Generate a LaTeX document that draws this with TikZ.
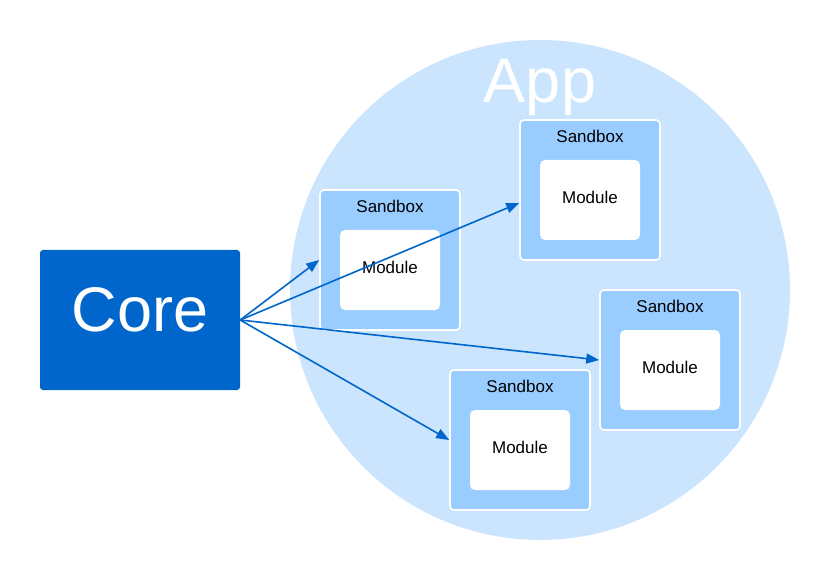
\documentclass[tikz,border=0pt]{standalone}
\usepackage{fontspec}
\setmainfont{Liberation Sans}
\usetikzlibrary{positioning, shapes.geometric, arrows.meta}
\definecolor{coreblue}{HTML}{0066CC}
\definecolor{appblue}{HTML}{CCE5FF}
\definecolor{sandblue}{HTML}{99CCFF}
\tikzstyle{app} = [circle, minimum size=500pt, inner sep=0pt, fill=appblue]
\tikzstyle{core} = [rectangle, rounded corners=3pt, minimum width=200pt, minimum height=140pt, fill=coreblue]
\tikzstyle{sandbox} = [rectangle, rounded corners=4pt, minimum width=140pt, minimum height=140pt, draw=white, line width=1.6pt, fill=sandblue]
\tikzstyle{module} = [rectangle, rounded corners=5pt, minimum width=100pt, minimum height=80pt, text depth=6pt, text centered, fill=white, font=\fontsize{17}{20}\selectfont]
\tikzstyle{sblabel} = [font=\fontsize{17}{20}\selectfont]
\tikzstyle{bigtext} = [text=white, font=\fontsize{63}{70}\selectfont]
\tikzstyle{arrow} = [line width=1.6pt, draw=coreblue, -{Triangle[length=13pt,width=10pt]}]
\def\modshift{10pt}

\begin{document}
\begin{tikzpicture}[x=1pt, y=-1pt]
\useasboundingbox (0,0) rectangle (830,580);

\node (app) [app] at (540,290) {};
\node (apptext) [bigtext, anchor=base] at ([yshift=-63pt]app.north) {App};

\node (core) [core] at (140,320) {};
\node (coretext) [bigtext] at ([yshift=10pt]core.center) {Core};

\node (sb1) [sandbox] at (390,260) {};
\node (lab1) [sblabel] at ([yshift=-17pt]sb1.north) {Sandbox};
\node (mod1) [module] at ([yshift=-\modshift]sb1.center) {Module};

\node (sb2) [sandbox] at (590,190) {};
\node (lab2) [sblabel] at ([yshift=-17pt]sb2.north) {Sandbox};
\node (mod2) [module] at ([yshift=-\modshift]sb2.center) {Module};

\node (sb3) [sandbox] at (670,360) {};
\node (lab3) [sblabel] at ([yshift=-17pt]sb3.north) {Sandbox};
\node (mod3) [module] at ([yshift=-\modshift]sb3.center) {Module};

\node (sb4) [sandbox] at (520,440) {};
\node (lab4) [sblabel] at ([yshift=-17pt]sb4.north) {Sandbox};
\node (mod4) [module] at ([yshift=-\modshift]sb4.center) {Module};

\draw [arrow] (core.east) -- (sb1.west);
\draw [arrow] (core.east) -- ([yshift=-13pt]sb2.west);
\draw [arrow] (core.east) -- (sb3.west);
\draw [arrow] (core.east) -- (sb4.west);

\end{tikzpicture}
\end{document}
